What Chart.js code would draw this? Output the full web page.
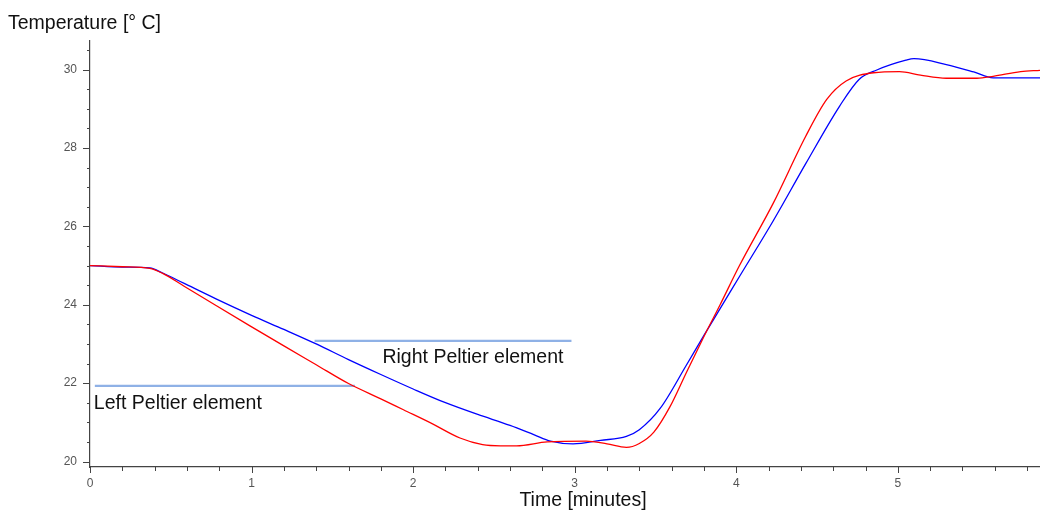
<!DOCTYPE html>
<html>
<head>
<meta charset="utf-8">
<script src="https://cdn.jsdelivr.net/npm/chart.js@4.4.1/dist/chart.umd.min.js"></script>
<style>
  html, body { margin: 0; padding: 0; background: #ffffff; }
  #wrap { width: 1040px; height: 510px; }
</style>
</head>
<body>
<div id="wrap"><canvas id="c" width="1040" height="510"></canvas></div>
<script>
// ---- data (time in minutes, temperature in °C) ----
const timeRight = [0, 0.2, 0.37, 0.45, 0.58, 0.78, 1.0, 1.2, 1.4, 1.6, 1.8, 2.0, 2.2, 2.4, 2.6, 2.75, 2.85, 2.99, 3.16, 3.32, 3.40, 3.53, 3.69, 3.80, 3.90, 4.02, 4.23, 4.43, 4.64, 4.76, 4.87, 5.05, 5.10, 5.30, 5.47, 5.59, 5.88];
const tempRight = [25.0, 24.96, 24.94, 24.81, 24.55, 24.15, 23.73, 23.37, 23.0, 22.6, 22.22, 21.85, 21.5, 21.2, 20.92, 20.68, 20.52, 20.45, 20.54, 20.64, 20.81, 21.36, 22.45, 23.22, 23.9, 24.72, 26.15, 27.6, 29.07, 29.75, 29.99, 30.24, 30.28, 30.13, 29.94, 29.79, 29.79];

const timeLeft = [0, 0.2, 0.37, 0.45, 0.58, 0.78, 0.99, 1.2, 1.4, 1.6, 1.8, 1.94, 2.12, 2.29, 2.43, 2.54, 2.64, 2.83, 3.07, 3.20, 3.32, 3.40, 3.49, 3.59, 3.69, 3.80, 3.90, 4.02, 4.23, 4.43, 4.56, 4.68, 4.85, 5.01, 5.14, 5.30, 5.49, 5.59, 5.76, 5.88];
const tempLeft = [25.0, 24.97, 24.93, 24.8, 24.48, 23.98, 23.46, 22.95, 22.47, 21.99, 21.6, 21.32, 20.96, 20.6, 20.43, 20.40, 20.40, 20.50, 20.52, 20.45, 20.36, 20.46, 20.75, 21.40, 22.26, 23.19, 24.0, 25.0, 26.6, 28.30, 29.24, 29.71, 29.92, 29.95, 29.86, 29.78, 29.78, 29.83, 29.95, 29.98];

// annotation lines: [startTime, endTime], level
const rightLabelSpan = [1.39, 2.98];
const rightLabelLevel = 23.08;
const leftLabelSpan = [0.03, 1.64];
const leftLabelLevel = 21.93;

const rightLabelText = 'Right Peltier element';
const leftLabelText = 'Left Peltier element';
const yAxisTitle = 'Temperature [° C]';
const xAxisTitle = 'Time [minutes]';

const xRange = [0, 5.88];
const yRange = [19.86, 30.73];

function pts(xs, ys) { return xs.map((x, i) => ({ x: x, y: ys[i] })); }
function spanPts(span, lvl) { return [{ x: span[0], y: lvl }, { x: span[1], y: lvl }]; }
function isInt(v) { return Math.abs(v - Math.round(v)) < 1e-6; }

const FONT = '"Liberation Sans", Arial, sans-serif';

const decorPlugin = {
  id: 'decor',
  afterDraw(chart) {
    const ctx = chart.ctx;
    const xs = chart.scales.x, ys = chart.scales.y;
    const area = chart.chartArea;
    ctx.save();
    // tick marks
    ctx.strokeStyle = '#444444';
    ctx.lineWidth = 1;
    ctx.beginPath();
    ys.ticks.forEach(t => {
      const y = Math.round(ys.getPixelForValue(t.value)) + 0.5;
      const major = isInt(t.value) && Math.round(t.value) % 2 === 0;
      const len = major ? 7 : 3;
      ctx.moveTo(area.left - len, y);
      ctx.lineTo(area.left, y);
    });
    xs.ticks.forEach(t => {
      const x = Math.round(xs.getPixelForValue(t.value)) + 0.5;
      const len = isInt(t.value) ? 6 : 4;
      ctx.moveTo(x, area.bottom);
      ctx.lineTo(x, area.bottom + len);
    });
    ctx.stroke();

    // titles and annotation texts
    ctx.fillStyle = '#111111';
    ctx.font = '19.5px ' + FONT;
    ctx.textBaseline = 'alphabetic';
    ctx.textAlign = 'left';
    ctx.fillText(yAxisTitle, 8, 29);
    ctx.textAlign = 'center';
    ctx.fillText(xAxisTitle, 583, 506);

    ctx.textAlign = 'right';
    ctx.fillText(rightLabelText, xs.getPixelForValue(rightLabelSpan[1]) - 8, ys.getPixelForValue(rightLabelLevel) + 22);
    ctx.textAlign = 'left';
    ctx.fillText(leftLabelText, xs.getPixelForValue(leftLabelSpan[0]) - 1, ys.getPixelForValue(leftLabelLevel) + 23);
    ctx.restore();
  }
};

new Chart(document.getElementById('c'), {
  type: 'line',
  data: {
    datasets: [
      { label: 'Left Peltier element', data: pts(timeLeft, tempLeft), borderColor: '#ff0000', borderWidth: 1.3, pointRadius: 0, cubicInterpolationMode: 'monotone', fill: false, order: 0 },
      { label: 'Right Peltier element', data: pts(timeRight, tempRight), borderColor: '#0000ff', borderWidth: 1.3, pointRadius: 0, cubicInterpolationMode: 'monotone', fill: false, order: 1 },
      { label: 'right marker', data: spanPts(rightLabelSpan, rightLabelLevel), borderColor: '#8fb1e6', borderWidth: 2.2, pointRadius: 0, fill: false, order: 2 },
      { label: 'left marker', data: spanPts(leftLabelSpan, leftLabelLevel), borderColor: '#8fb1e6', borderWidth: 2.2, pointRadius: 0, fill: false, order: 2 }
    ]
  },
  options: {
    responsive: false,
    animation: false,
    devicePixelRatio: 1,
    layout: { padding: { top: 41, left: 0, right: 0, bottom: 0 } },
    plugins: { legend: { display: false }, tooltip: { enabled: false } },
    scales: {
      x: {
        type: 'linear',
        min: xRange[0], max: xRange[1],
        grid: { display: false, drawTicks: false },
        border: { display: true, color: '#444444', width: 1.2 },
        ticks: {
          stepSize: 0.2, includeBounds: false, autoSkip: false, maxRotation: 0, padding: 9,
          color: '#555555', font: { family: FONT, size: 12 },
          callback: v => isInt(v) ? String(Math.round(v)) : ''
        },
        afterFit: s => { s.height = 43; }
      },
      y: {
        type: 'linear',
        min: yRange[0], max: yRange[1],
        grid: { display: false, drawTicks: false },
        border: { display: true, color: '#444444', width: 1.2 },
        ticks: {
          stepSize: 0.5, includeBounds: false, autoSkip: false, padding: 13,
          color: '#555555', font: { family: FONT, size: 12 },
          callback: v => (isInt(v) && Math.round(v) % 2 === 0) ? String(Math.round(v)) : ''
        },
        afterFit: s => { s.width = 90; }
      }
    }
  },
  plugins: [decorPlugin]
});
</script>
</body>
</html>
